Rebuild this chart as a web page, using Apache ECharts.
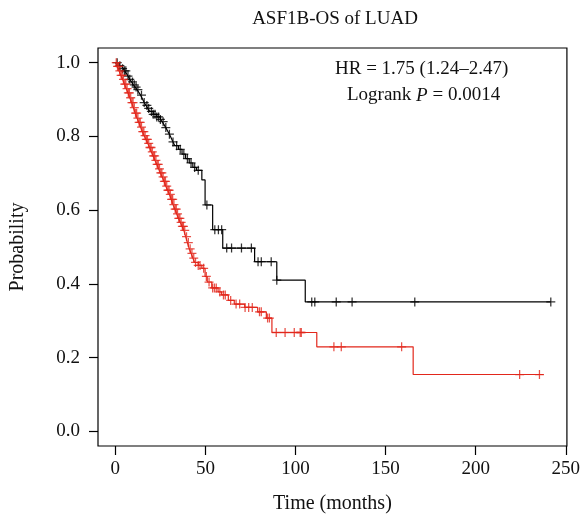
<!DOCTYPE html>
<html>
<head>
<meta charset="utf-8">
<script src="https://cdn.jsdelivr.net/npm/echarts@6/dist/echarts.min.js"></script>
<style>
  html, body { margin: 0; padding: 0; background: #fff; }
  #chart { width: 583px; height: 520px; }
</style>
</head>
<body>
<div id="chart"></div>
<script>
// tick labels
var xTicks = [0, 50, 100, 150, 200, 250];
var yTicks = [0, 0.2, 0.4, 0.6, 0.8, 1.0];

// low expression group (black): [months, survival] step points
var blackSteps = [
  [0, 1.0], [2, 0.992], [3, 0.988], [4, 0.984], [5, 0.978], [6, 0.972], [7, 0.964],
  [8, 0.955], [9, 0.948], [10, 0.94], [11, 0.934], [12, 0.927], [13, 0.92], [14, 0.912],
  [15, 0.902], [16, 0.892], [17, 0.884], [18, 0.876], [19, 0.868], [21, 0.86], [23, 0.853],
  [25, 0.846], [26, 0.84], [27, 0.832], [28, 0.824], [29, 0.815], [30, 0.806], [31, 0.796],
  [32, 0.785], [33, 0.775], [35, 0.765], [37, 0.752], [39, 0.74], [41, 0.728], [43, 0.716],
  [45, 0.708], [48, 0.682], [49.8, 0.614], [54, 0.547], [59.6, 0.497], [77.3, 0.46],
  [89.6, 0.41], [105.4, 0.351], [241.7, 0.351]
];
// censored times (black)
var blackCensor = [
  1, 2.5, 4, 5, 5.8, 7, 8, 9.5, 10.5, 11.5, 12.5, 14.5, 16, 17.5, 18.5, 20, 21, 22, 23,
  24, 25, 26.5, 28, 30, 32, 34, 36, 38, 40, 42, 44, 46, 50.8, 55.2, 57.2, 59, 61.8, 64.5,
  70, 75.5, 79.2, 81, 86.5, 89.6, 109, 110.7, 122.6, 131.4, 166.2, 241.7
];

// high expression group (red)
var redSteps = [
  [0, 1.0], [1, 0.99], [2, 0.978], [3, 0.966], [4, 0.955], [5, 0.942], [6, 0.93],
  [7, 0.918], [8, 0.905], [9, 0.892], [10, 0.878], [11, 0.863], [12, 0.85], [13, 0.838],
  [14, 0.825], [15, 0.813], [16, 0.802], [17, 0.792], [18, 0.781], [19, 0.77], [20, 0.758],
  [21, 0.747], [22, 0.735], [23, 0.724], [24, 0.712], [25, 0.701], [26, 0.69], [27, 0.678],
  [28, 0.665], [29, 0.654], [30, 0.643], [31, 0.629], [32, 0.615], [33, 0.603], [34, 0.59],
  [35, 0.578], [36, 0.567], [37, 0.556], [38, 0.545], [39, 0.528], [40, 0.512], [41, 0.495],
  [42, 0.483], [43, 0.47], [44, 0.458], [46, 0.45], [48, 0.442], [49.8, 0.42], [51, 0.405],
  [53.5, 0.389], [57, 0.378], [59, 0.37], [62.7, 0.355], [66, 0.345], [71.8, 0.336],
  [79, 0.324], [83.8, 0.307], [86.9, 0.268], [111.8, 0.229], [165.3, 0.154], [237.7, 0.154]
];
var redCensor = [
  0.5, 1.2, 1.8, 2.5, 3.2, 3.8, 4.5, 5.2, 5.8, 6.5, 7.2, 7.8, 8.5, 9.2, 9.8, 10.5, 11.2,
  11.8, 12.5, 13.2, 13.8, 14.5, 15.2, 15.8, 16.5, 17.2, 17.8, 18.5, 19.2, 19.8, 20.5, 21.2,
  21.8, 22.5, 23.2, 23.8, 24.5, 25.2, 25.8, 26.5, 27.2, 27.8, 28.5, 29.2, 29.8, 30.5, 31.2,
  31.8, 32.5, 33.2, 33.8, 34.5, 35.2, 35.8, 36.5, 37.2, 37.8, 38.5, 39.5, 40.5, 41.5, 42.5,
  43.5, 44.5, 46, 47, 49, 50.5, 52, 54, 55, 56, 58, 60, 61, 64, 67, 69, 72, 74, 76, 80,
  81, 84.5, 85.5, 89.3, 94.2, 99.3, 102.6, 103.2, 121.3, 125.4, 158.9, 224.4, 235.4
];

var FONT = 'Liberation Serif';
var RED = '#e2271b';

function levelAt(steps, t) {
  var v = steps[0][1];
  for (var i = 0; i < steps.length; i++) {
    if (steps[i][0] <= t) v = steps[i][1];
  }
  return v;
}
function censorPoints(steps, times) {
  return times.map(function (t) { return [t, levelAt(steps, t)]; });
}

var plusPath = 'path://M-0.14,-1 L0.14,-1 L0.14,-0.14 L1,-0.14 L1,0.14 L0.14,0.14 L0.14,1 L-0.14,1 L-0.14,0.14 L-1,0.14 L-1,-0.14 L-0.14,-0.14 Z';

var chart = echarts.init(document.getElementById('chart'), null, { renderer: 'canvas' });
chart.setOption({
  animation: false,
  backgroundColor: '#fff',
  title: {
    text: 'ASF1B-OS of LUAD',
    left: 330,
    top: 5,
    textAlign: 'center',
    textStyle: { fontFamily: FONT, fontSize: 19, fontWeight: 'normal', color: '#111' }
  },
  grid: {
    left: 95, right: 14, top: 48, bottom: 74,
    show: true, borderColor: '#000', borderWidth: 1.2, backgroundColor: 'transparent'
  },
  xAxis: {
    type: 'value',
    min: -9.64, max: 250.64,
    name: 'Time (months)',
    nameLocation: 'middle',
    nameGap: 48,
    nameTextStyle: { fontFamily: FONT, fontSize: 20, color: '#111' },
    axisLine: { show: false, onZero: false },
    axisTick: { show: true, length: 9, customValues: xTicks, lineStyle: { color: '#000', width: 1.2 } },
    axisLabel: { customValues: xTicks, margin: 14, fontFamily: FONT, fontSize: 19, color: '#111' },
    splitLine: { show: false }
  },
  yAxis: {
    type: 'value',
    min: -0.04, max: 1.04,
    name: 'Probability',
    nameLocation: 'middle',
    nameRotate: 90,
    nameGap: 70,
    nameTextStyle: { fontFamily: FONT, fontSize: 20, color: '#111' },
    axisLine: { show: false, onZero: false },
    axisTick: { show: true, length: 9, customValues: yTicks, lineStyle: { color: '#000', width: 1.2 } },
    axisLabel: {
      customValues: yTicks, margin: 18, fontFamily: FONT, fontSize: 19, color: '#111',
      formatter: function (v) { return v.toFixed(1); }
    },
    splitLine: { show: false }
  },
  graphic: [
    {
      type: 'text', left: 335, top: 60, silent: true,
      style: { text: 'HR = 1.75 (1.24–2.47)', font: '19px "Liberation Serif"', fill: '#111' }
    },
    {
      type: 'text', left: 347, top: 86, silent: true,
      style: {
        text: 'Logrank {i|P} = 0.0014',
        font: '19px "Liberation Serif"', fill: '#111',
        rich: { i: { fontStyle: 'italic', fontFamily: FONT, fontSize: 19, fill: '#111' } }
      }
    }
  ],
  series: [
    {
      name: 'low', type: 'line', step: 'end', showSymbol: false, silent: true,
      data: blackSteps, lineStyle: { color: '#000', width: 1.2 }, z: 3
    },
    {
      name: 'low censored', type: 'scatter', symbol: plusPath, symbolSize: 9, silent: true,
      data: censorPoints(blackSteps, blackCensor), itemStyle: { color: '#000' }, z: 4
    },
    {
      name: 'high', type: 'line', step: 'end', showSymbol: false, silent: true,
      data: redSteps, lineStyle: { color: RED, width: 1.2 }, z: 3
    },
    {
      name: 'high censored', type: 'scatter', symbol: plusPath, symbolSize: 9, silent: true,
      data: censorPoints(redSteps, redCensor), itemStyle: { color: RED }, z: 4
    }
  ]
});
</script>
</body>
</html>
